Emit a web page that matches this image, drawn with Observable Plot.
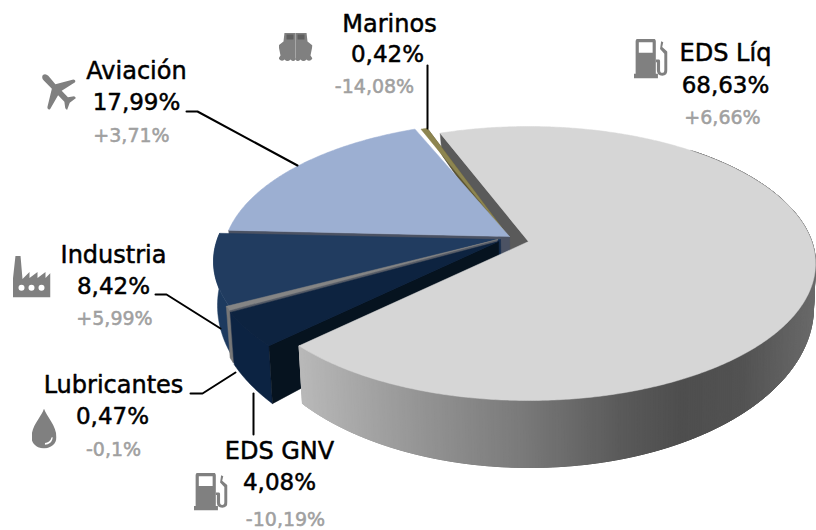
<!DOCTYPE html>
<html><head><meta charset="utf-8">
<script src="https://cdn.jsdelivr.net/npm/d3@7"></script>
<script src="https://cdn.jsdelivr.net/npm/@observablehq/plot@0.6"></script>
<style>html,body{margin:0;padding:0;background:#fff}svg{display:block}</style>
</head><body><div id="chart"></div>
<script>
// ---- data, clockwise from the first slice ----
const categories = ["EDS Líq", "EDS GNV", "Lubricantes", "Industria", "Aviación", "Marinos"];
const shares = [68.63, 4.08, 0.47, 8.42, 17.99, 0.42];
const changes = ["+6,66%", "-10,19%", "-0,1%", "+5,99%", "+3,71%", "-14,08%"];

// ---- presentation ----
const startAngle = 339;
const topColors = ["#d6d6d6", "#0d2340", "#858585", "#213c60", "#9cafd2", "#8d8550"];
const sideColors = ["#5a5a5a", "#06131f", "#555b66", "#142c4c", "#4b5263", "#5b5330"];
const rimColors = [null, "#0c2342", "#777777", "#1d3a5f", "#4b5263", "#5b5330"];
const explodeX = [0, -30, -31, -28, -19, -13];
const explodeY = [0, 0, -2, -2, -5, -5];
const apexX = [0, 0, 0, 0, 0, -7];
const topE = {cx: 528, cy: 263, rx: 287, ry: 137};
const botE = {cx: 529, cy: 307, rx: 284, ry: 160};
const persp = -0.16, kp = Math.sqrt(1 - persp * persp);
const rimX = [300, 420, 520, 620, 680, 740, 815];
const rimGrey = ["#b8b8b8", "#949494", "#7a7a7a", "#5a5a5a", "#4e4e4e", "#525252", "#6a6a6a"];
const rimShade = d3.scaleLinear().domain(rimX).range(rimGrey);

// label block layout: name, share, change lines
const nameX = [725, 279, 113, 113, 136, 389], nameY = [53, 451, 385, 255, 71, 24];
const shareX = [725, 279, 112, 113, 136, 387], shareY = [85, 482, 416, 286, 102, 54];
const changeX = [722, 285, 113, 114, 131, 374], changeY = [117, 519, 449, 318, 135, 86];
const leaders = [
  [[186, 111], [197, 111], [297, 165]],
  [[427, 65], [427, 128]],
  [[155, 294], [166, 294], [220, 328]],
  [[190, 393], [202, 393], [235, 372]],
  [[253, 393], [253, 434]]
];

// ---- icons ----
const svgIcon = (w, h, body) => "data:image/svg+xml;utf8," + encodeURIComponent(
  `<svg xmlns="http://www.w3.org/2000/svg" viewBox="0 0 ${w} ${h}" fill="#808080">${body}</svg>`);
const pump = svgIcon(32, 42, `<path fill-rule="evenodd" d="M5 0H18Q21 0 21 3V37H23V42H0V37H2V3Q2 0 5 0ZM5 4V15H18V4Z"/><path d="M21 22H24Q25 22 25 24V33Q25 36 27 36T29 33V16L25 11L26 3L28 4L27 9L32 14V33Q32 39 27 39T22 33V25H21Z"/>`);
const ship = svgIcon(34, 30, `<path d="M6 0H28L29 9L34 13L32 23L34 26Q31 30 28 27Q25 30 22 27Q19 30 17 27Q15 30 12 27Q9 30 6 27Q3 30 0 26L2 23L0 13L5 9Z"/><path fill="#5f5f5f" d="M8 2H15V7H8ZM19 2H26V7H19Z"/><path fill="#b0b0b0" d="M16.6 0H17.4V26H16.6Z"/>`);
const plane = svgIcon(38, 40, `<path d="M1 1Q4 -1 7 2L15 11L35 6Q38 6 37 9L22 18L29 25L36 24L38 26L31 31L28 39L26 37L25 30L18 23L9 38Q6 39 6 36L11 16L2 7Q-1 4 1 1Z"/>`);
const factory = svgIcon(38, 43, `<path fill-rule="evenodd" d="M3 0H8L10 24L17 17V23L25 17V23L33 17V23L38 18V43H0V28ZM9 30A3 3 0 1 0 9 36A3 3 0 1 0 9 30ZM19 30A3 3 0 1 0 19 36A3 3 0 1 0 19 30ZM29 30A3 3 0 1 0 29 36A3 3 0 1 0 29 30Z"/>`);
const drop = svgIcon(26, 43, `<path fill-rule="evenodd" d="M13 0C15 8 26 18 26 31C26 38 20 43 13 43C6 43 0 38 0 31C0 18 11 8 13 0ZM21 31C20 35 17 37 14 37L14 39C18 39 22 36 22 31Z"/>`);
const icons = [
  {src: pump, x: 650, y: 58, w: 34, h: 40},
  {src: ship, x: 295, y: 47, w: 34, h: 30},
  {src: plane, x: 58.5, y: 92, w: 34, h: 37},
  {src: factory, x: 31, y: 276, w: 38, h: 42},
  {src: drop, x: 43.5, y: 428, w: 25, h: 40},
  {src: pump, x: 210, y: 491, w: 34, h: 38}
];

// ---- geometry derived from the shares ----
const total = d3.sum(shares);
let cursor = startAngle;
const slices = shares.map((v, i) => {
  const a0 = cursor, a1 = cursor + v / total * 360;
  cursor = a1;
  return {i, a0, a1, dx: explodeX[i], dy: explodeY[i], ax: apexX[i]};
});
function P(theta, r, bottom, s) {
  const t = theta * Math.PI / 180, u = r * Math.sin(t), v = -r * Math.cos(t), d = 1 + persp * v;
  const E = bottom ? botE : topE;
  return [E.cx + E.rx * u * kp / d + s.dx + (r === 0 ? s.ax : 0), E.cy + E.ry * (v + persp) / d + s.dy];
}
const arc = (a0, a1, bottom, s) => {
  const n = Math.max(2, Math.ceil(Math.abs(a1 - a0) * 2));
  return d3.range(n + 1).map(k => P(a0 + (a1 - a0) * k / n, 1, bottom, s));
};
const polys = [];
const add = (pts, color) => {
  const id = polys.length;
  polys.push({id, color, pts});
};
const topFace = s => add([P(s.a0, 0, false, s), ...arc(s.a0, s.a1, false, s)], topColors[s.i]);
const radial = (s, a, f = 1) => {
  const o = P(a, 1, false, s), ob = P(a, 1, true, s), c = P(a, 0, false, s), cb = P(a, 0, true, s);
  add([c, o, [o[0] + (ob[0] - o[0]) * f, o[1] + (ob[1] - o[1]) * f], [c[0] + (cb[0] - c[0]) * f, c[1] + (cb[1] - c[1]) * f]], sideColors[s.i]);
};
const outer = (s, a0, a1) => add([...arc(a0, a1, false, s), ...arc(a0, a1, true, s).reverse()], rimColors[s.i]);

const [big, gnv, lub, ind, avi, mar] = slices;
// painted back to front
radial(big, big.a0);
radial(mar, mar.a1, 0.3);
topFace(mar);
radial(avi, avi.a0);
topFace(avi);
radial(ind, ind.a0);
outer(ind, ind.a0, ind.a1);
topFace(ind);
radial(lub, lub.a0);
outer(lub, lub.a0, lub.a1);
topFace(lub);
outer(gnv, gnv.a0, gnv.a1);
radial(gnv, gnv.a0);
topFace(gnv);
// big slice rim, shaded in overlapping narrow strips
const rimTo = big.a1 - 360;
for (let a = 40; a < rimTo; a += 0.5) {
  const b = Math.min(a + 2, rimTo);
  const q = [P(a, 1, false, big), P(a + (b - a) / 2, 1, false, big), P(b, 1, false, big), P(b, 1, true, big), P(a + (b - a) / 2, 1, true, big), P(a, 1, true, big)];
  add(q, rimShade(P(a + 0.25, 1, false, big)[0]));
}
topFace(big);

const polyPoints = polys.flatMap(p => [...p.pts, p.pts[0]].map(([x, y]) => ({id: p.id, color: p.color, x, y})));
const leaderPoints = leaders.flatMap((l, id) => l.map(([x, y]) => ({id, x, y})));
const row = (xs, ys, texts) => texts.map((text, i) => ({x: xs[i], y: ys[i], text}));
const fmtShare = v => v.toFixed(2).replace(".", ",") + "%";

const font = "'DejaVu Sans',sans-serif";
const chart = Plot.plot({
  width: 816, height: 530, margin: 0,
  x: {domain: [0, 816], range: [0, 816], axis: null},
  y: {domain: [0, 530], range: [0, 530], axis: null},
  color: {type: "identity"},
  style: {background: "#fff"},
  marks: [
    Plot.line(polyPoints, {x: "x", y: "y", z: "id", fill: "color", stroke: "color", strokeWidth: 0.5, curve: "linear", strokeLinejoin: "round"}),
    Plot.line(leaderPoints, {x: "x", y: "y", z: "id", stroke: "#000", strokeWidth: 2, curve: "linear", strokeLinejoin: "miter"}),
    Plot.image(icons, {x: "x", y: "y", width: "w", height: "h", src: "src", preserveAspectRatio: "none"}),
    Plot.text(row(nameX, nameY, categories), {x: "x", y: "y", text: "text", fontFamily: font, fontSize: 24, fill: "#000", stroke: "#000", strokeWidth: 0.5, letterSpacing: 1.2}),
    Plot.text(row(shareX, shareY, shares.map(fmtShare)), {x: "x", y: "y", text: "text", fontFamily: font, fontSize: 23, fill: "#000", stroke: "#000", strokeWidth: 0.5, letterSpacing: 1.5}),
    Plot.text(row(changeX, changeY, changes), {x: "x", y: "y", text: "text", fontFamily: font, fontSize: 19, fill: "#a0a0a0", stroke: "#a0a0a0", strokeWidth: 0.5, letterSpacing: 1.8})
  ]
});
document.getElementById("chart").append(chart);
</script></body></html>
